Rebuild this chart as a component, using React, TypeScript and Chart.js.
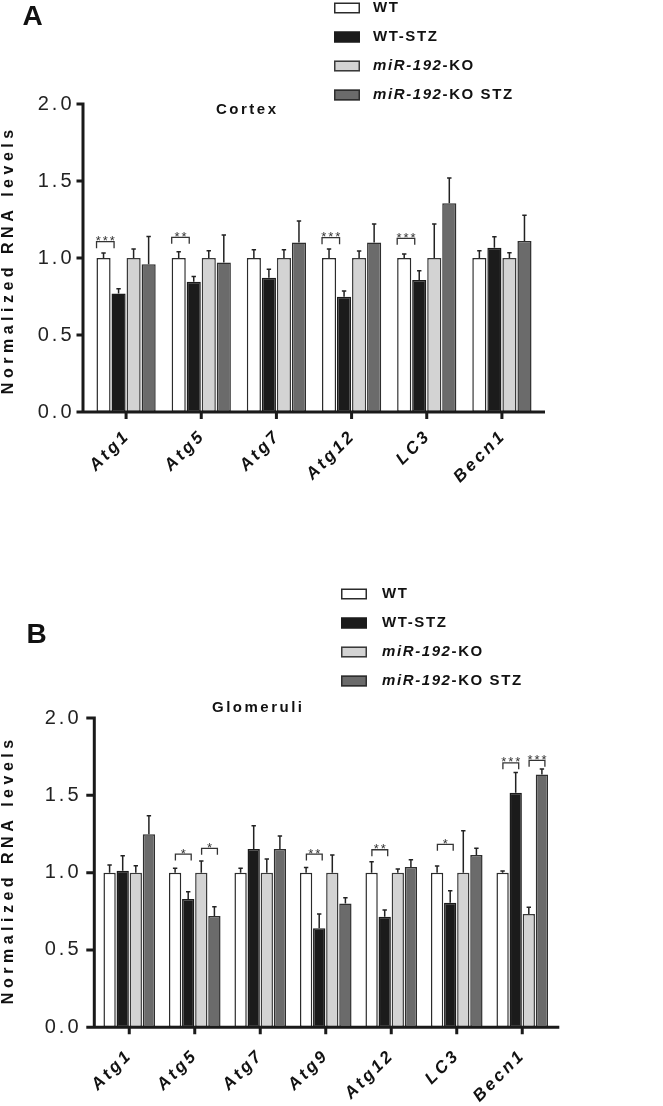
import React, { useEffect, useRef } from "react";
import { Chart, registerables } from "chart.js";

Chart.register(...registerables);

const FONT = "'Liberation Sans', Arial, Helvetica, sans-serif";

// ---------- data ----------
const seriesLabels = ["WT", "WT-STZ", "miR-192-KO", "miR-192-KO STZ"];
const seriesFill = ["#ffffff", "#1b1b1b", "#d3d3d3", "#6b6b6b"];
const seriesBorder = ["#2b2b2b", "#1b1b1b", "#3a3a3a", "#2e2e2e"];

// Panel A: Cortex
const cortexGenes = ["Atg1", "Atg5", "Atg7", "Atg12", "LC3", "Becn1"];
const cortexWT = [1.0, 1.0, 1.0, 1.0, 1.0, 1.0];
const cortexWTSTZ = [0.77, 0.846, 0.872, 0.749, 0.857, 1.067];
const cortexKO = [1.0, 1.0, 1.0, 1.0, 1.0, 1.0];
const cortexKOSTZ = [0.96, 0.97, 1.1, 1.1, 1.355, 1.11];
const cortexWTErr = [0.032, 0.04, 0.054, 0.058, 0.026, 0.047];
const cortexWTSTZErr = [0.03, 0.034, 0.055, 0.037, 0.061, 0.071];
const cortexKOErr = [0.058, 0.047, 0.054, 0.045, 0.22, 0.034];
const cortexKOSTZErr = [0.18, 0.18, 0.14, 0.12, 0.165, 0.167];
const cortexSigCategory = [0, 1, 3, 4];
const cortexSigFrom = [0, 0, 0, 0];
const cortexSigTo = [1, 1, 1, 1];
const cortexSigHeight = [1.106, 1.134, 1.132, 1.128];
const cortexSigLabel = ["***", "**", "***", "***"];

// Panel B: Glomeruli
const glomGenes = ["Atg1", "Atg5", "Atg7", "Atg9", "Atg12", "LC3", "Becn1"];
const glomWT = [1.0, 1.0, 1.0, 1.0, 1.0, 1.0, 1.0];
const glomWTSTZ = [1.012, 0.829, 1.153, 0.64, 0.715, 0.806, 1.517];
const glomKO = [1.0, 1.0, 1.0, 1.0, 1.0, 1.0, 0.732];
const glomKOSTZ = [1.248, 0.72, 1.153, 0.8, 1.036, 1.114, 1.635];
const glomWTErr = [0.05, 0.028, 0.028, 0.034, 0.07, 0.043, 0.01];
const glomWTSTZErr = [0.098, 0.048, 0.15, 0.092, 0.043, 0.077, 0.131];
const glomKOErr = [0.045, 0.075, 0.088, 0.114, 0.023, 0.271, 0.044];
const glomKOSTZErr = [0.12, 0.06, 0.084, 0.038, 0.047, 0.043, 0.035];
const glomSigCategory = [1, 1, 3, 4, 5, 6, 6];
const glomSigFrom = [0, 2, 0, 0, 0, 0, 2];
const glomSigTo = [1, 3, 1, 1, 1, 1, 3];
const glomSigHeight = [1.12, 1.157, 1.12, 1.148, 1.183, 1.71, 1.726];
const glomSigLabel = ["*", "*", "**", "**", "*", "***", "***"];

const yAxisTitle = "Normalized RNA levels";

// ---------- layout ----------
type Panel = {
  letter: string;
  title: string;
  genes: string[];
  values: number[][];
  errors: number[][];
  sigCat: number[];
  sigFrom: number[];
  sigTo: number[];
  sigH: number[];
  sigLabel: string[];
  canvasH: number;
  top: number;
  right: number;
  yWidth: number;
  xHeight: number;
  yTickPad: number;
  xTickPad: number;
  xLabelOffset: number;
  axisGap: number;
  axisRightExt: number;
  yTickLen: number;
  bracketDxA: number;
  bracketDxB: number;
  legendX: number;
  legendTextX: number;
  legendY: number;
  titleX: number;
  titleY: number;
  letterX: number;
  letterY: number;
  yTitleX: number;
  yTitleY: number;
};

const panelA: Panel = {
  letter: "A",
  title: "Cortex",
  genes: cortexGenes,
  values: [cortexWT, cortexWTSTZ, cortexKO, cortexKOSTZ],
  errors: [cortexWTErr, cortexWTSTZErr, cortexKOErr, cortexKOSTZErr],
  sigCat: cortexSigCategory,
  sigFrom: cortexSigFrom,
  sigTo: cortexSigTo,
  sigH: cortexSigHeight,
  sigLabel: cortexSigLabel,
  canvasH: 560,
  top: 104,
  right: 123.5,
  yWidth: 88.5,
  xHeight: 148,
  yTickPad: 6,
  xTickPad: 6,
  xLabelOffset: 1.5,
  axisGap: 5.5,
  axisRightExt: 5.5,
  yTickLen: 6.5,
  bracketDxA: -7,
  bracketDxB: -4.5,
  legendX: 334,
  legendTextX: 373,
  legendY: 8,
  titleX: 246,
  titleY: 110,
  letterX: 32.5,
  letterY: 17,
  yTitleX: 9,
  yTitleY: 262,
};

const panelB: Panel = {
  letter: "B",
  title: "Glomeruli",
  genes: glomGenes,
  values: [glomWT, glomWTSTZ, glomKO, glomKOSTZ],
  errors: [glomWTErr, glomWTSTZErr, glomKOErr, glomKOSTZErr],
  sigCat: glomSigCategory,
  sigFrom: glomSigFrom,
  sigTo: glomSigTo,
  sigH: glomSigHeight,
  sigLabel: glomSigLabel,
  canvasH: 546,
  top: 158,
  right: 108,
  yWidth: 96.5,
  xHeight: 78.7,
  yTickPad: 7,
  xTickPad: 10,
  xLabelOffset: 0.5,
  axisGap: 2.2,
  axisRightExt: 4.3,
  yTickLen: 8,
  bracketDxA: 0.3,
  bracketDxB: 3,
  legendX: 341,
  legendTextX: 382,
  legendY: 34,
  titleX: 257,
  titleY: 148,
  letterX: 36.5,
  letterY: 75,
  yTitleX: 9,
  yTitleY: 312,
};

const AXIS_COLOR = "#1a1a1a";

function setSpacing(ctx: any, px: number) {
  try {
    ctx.letterSpacing = px + "px";
  } catch (e) {
    /* ignore */
  }
}

function drawCenteredText(ctx: CanvasRenderingContext2D, text: string, x: number, y: number, spacing: number) {
  setSpacing(ctx, spacing);
  ctx.textAlign = "center";
  ctx.fillText(text, x + spacing / 2, y);
}

function makeDecor(p: Panel) {
  return {
    id: "decor",
    beforeDraw(chart: any) {
      setSpacing(chart.ctx, 3);
    },
    afterDatasetsDraw(chart: any) {
      const ctx: CanvasRenderingContext2D = chart.ctx;
      const yScale = chart.scales.y;
      ctx.save();
      // error bars
      p.values.forEach((vals, di) => {
        const meta = chart.getDatasetMeta(di);
        vals.forEach((v, i) => {
          const bar = meta.data[i];
          const x = bar.x;
          const y0 = yScale.getPixelForValue(v);
          const y1 = yScale.getPixelForValue(v + p.errors[di][i]);
          ctx.strokeStyle = "#222";
          ctx.lineWidth = 1.5;
          ctx.beginPath();
          ctx.moveTo(x, y0);
          ctx.lineTo(x, y1);
          ctx.moveTo(x - 2.2, y1);
          ctx.lineTo(x + 2.2, y1);
          ctx.stroke();
        });
      });
      // significance brackets
      p.sigCat.forEach((c, k) => {
        const xa = chart.getDatasetMeta(p.sigFrom[k]).data[c].x + p.bracketDxA;
        const xb = chart.getDatasetMeta(p.sigTo[k]).data[c].x + p.bracketDxB;
        const y = yScale.getPixelForValue(p.sigH[k]);
        ctx.strokeStyle = "#333";
        ctx.lineWidth = 1.3;
        ctx.beginPath();
        ctx.moveTo(xa, y + 6.5);
        ctx.lineTo(xa, y);
        ctx.lineTo(xb, y);
        ctx.lineTo(xb, y + 6.5);
        ctx.stroke();
        ctx.fillStyle = "#333";
        ctx.font = `13px ${FONT}`;
        ctx.textBaseline = "alphabetic";
        drawCenteredText(ctx, p.sigLabel[k], (xa + xb) / 2, y + 3.5, 2);
      });
      ctx.restore();
    },
    afterDraw(chart: any) {
      const ctx: CanvasRenderingContext2D = chart.ctx;
      const area = chart.chartArea;
      const yScale = chart.scales.y;
      const xScale = chart.scales.x;
      ctx.save();
      // axes
      const axisX = area.left - p.axisGap;
      const y0 = yScale.getPixelForValue(0);
      const yTop = yScale.getPixelForValue(2);
      ctx.strokeStyle = AXIS_COLOR;
      ctx.lineWidth = 3;
      ctx.lineCap = "butt";
      ctx.beginPath();
      ctx.moveTo(axisX, yTop - 1.5);
      ctx.lineTo(axisX, y0);
      ctx.moveTo(axisX - p.yTickLen, y0);
      ctx.lineTo(area.right + p.axisRightExt, y0);
      yScale.ticks.forEach((t: any) => {
        const ty = yScale.getPixelForValue(t.value);
        ctx.moveTo(axisX - p.yTickLen, ty);
        ctx.lineTo(axisX, ty);
      });
      p.genes.forEach((_, i) => {
        const tx = xScale.getPixelForValue(i);
        ctx.moveTo(tx, y0);
        ctx.lineTo(tx, y0 + 7);
      });
      ctx.stroke();

      // panel letter
      ctx.fillStyle = "#111";
      ctx.textBaseline = "middle";
      ctx.font = `bold 28px ${FONT}`;
      drawCenteredText(ctx, p.letter, p.letterX, p.letterY, 0);

      // title
      ctx.font = `bold 15px ${FONT}`;
      drawCenteredText(ctx, p.title, p.titleX, p.titleY, 2.5);

      // y axis title
      ctx.save();
      ctx.translate(p.yTitleX, p.yTitleY);
      ctx.rotate(-Math.PI / 2);
      ctx.font = `bold 16px ${FONT}`;
      drawCenteredText(ctx, yAxisTitle, 0, 0, 4.5);
      ctx.restore();

      // legend
      seriesLabels.forEach((label, i) => {
        const cy = p.legendY + i * 29;
        ctx.fillStyle = seriesFill[i];
        ctx.fillRect(p.legendX, cy - 5.5, 26, 11);
        ctx.strokeStyle = seriesBorder[i];
        ctx.lineWidth = 1.5;
        ctx.strokeRect(p.legendX + 0.75, cy - 5.5 + 0.75, 24.5, 9.5);
        ctx.fillStyle = "#111";
        ctx.textAlign = "left";
        ctx.textBaseline = "middle";
        setSpacing(ctx, 1.6);
        const m = label.match(/^(miR-192)(.*)$/);
        let x = p.legendTextX;
        if (m) {
          ctx.font = `italic bold 15px ${FONT}`;
          ctx.fillText(m[1], x, cy);
          x += ctx.measureText(m[1]).width;
          ctx.font = `bold 15px ${FONT}`;
          ctx.fillText(m[2], x, cy);
        } else {
          ctx.font = `bold 15px ${FONT}`;
          ctx.fillText(label, x, cy);
        }
      });
      ctx.restore();
      setSpacing(ctx, 0);
    },
  };
}

function makeChart(canvas: HTMLCanvasElement, p: Panel) {
  const datasets = seriesLabels.map((label, i) => ({
    label,
    data: p.values[i],
    backgroundColor: seriesFill[i],
    borderColor: seriesBorder[i],
    borderWidth: 1.5,
    borderSkipped: false as any,
    categoryPercentage: 0.8,
    barPercentage: 0.94,
  }));
  return new Chart(canvas, {
    type: "bar",
    data: { labels: p.genes, datasets },
    options: {
      animation: false,
      responsive: false,
      maintainAspectRatio: false,
      devicePixelRatio: 1,
      layout: { padding: { top: p.top, right: p.right, left: 0, bottom: 0 } },
      plugins: {
        legend: { display: false },
        tooltip: { enabled: false },
        title: { display: false },
      },
      scales: {
        x: {
          grid: { display: false },
          border: { display: false },
          ticks: {
            autoSkip: false,
            minRotation: 45,
            maxRotation: 45,
            padding: p.xTickPad,
            labelOffset: p.xLabelOffset,
            color: "#111",
            font: { family: FONT, size: 17, weight: "bold", style: "italic" },
          },
          afterFit: (s: any) => {
            s.height = p.xHeight;
          },
        },
        y: {
          min: 0,
          max: 2,
          grid: { display: false },
          border: { display: false },
          ticks: {
            stepSize: 0.5,
            padding: p.yTickPad,
            color: "#222",
            font: { family: FONT, size: 20 },
            callback: (v: any) => Number(v).toFixed(1),
          },
          afterFit: (s: any) => {
            s.width = p.yWidth;
          },
        },
      },
    } as any,
    plugins: [makeDecor(p) as any],
  });
}

export default function App() {
  const refA = useRef<HTMLCanvasElement>(null);
  const refB = useRef<HTMLCanvasElement>(null);
  useEffect(() => {
    const a = makeChart(refA.current!, panelA);
    const b = makeChart(refB.current!, panelB);
    return () => {
      a.destroy();
      b.destroy();
    };
  }, []);
  return (
    <div style={{ position: "absolute", left: 0, top: 0, width: 663, height: 1106, background: "#fff" }}>
      <canvas
        ref={refA}
        width={663}
        height={panelA.canvasH}
        style={{ position: "absolute", left: 0, top: 0, width: 663, height: panelA.canvasH }}
      />
      <canvas
        ref={refB}
        width={663}
        height={panelB.canvasH}
        style={{ position: "absolute", left: 0, top: 560, width: 663, height: panelB.canvasH }}
      />
    </div>
  );
}
